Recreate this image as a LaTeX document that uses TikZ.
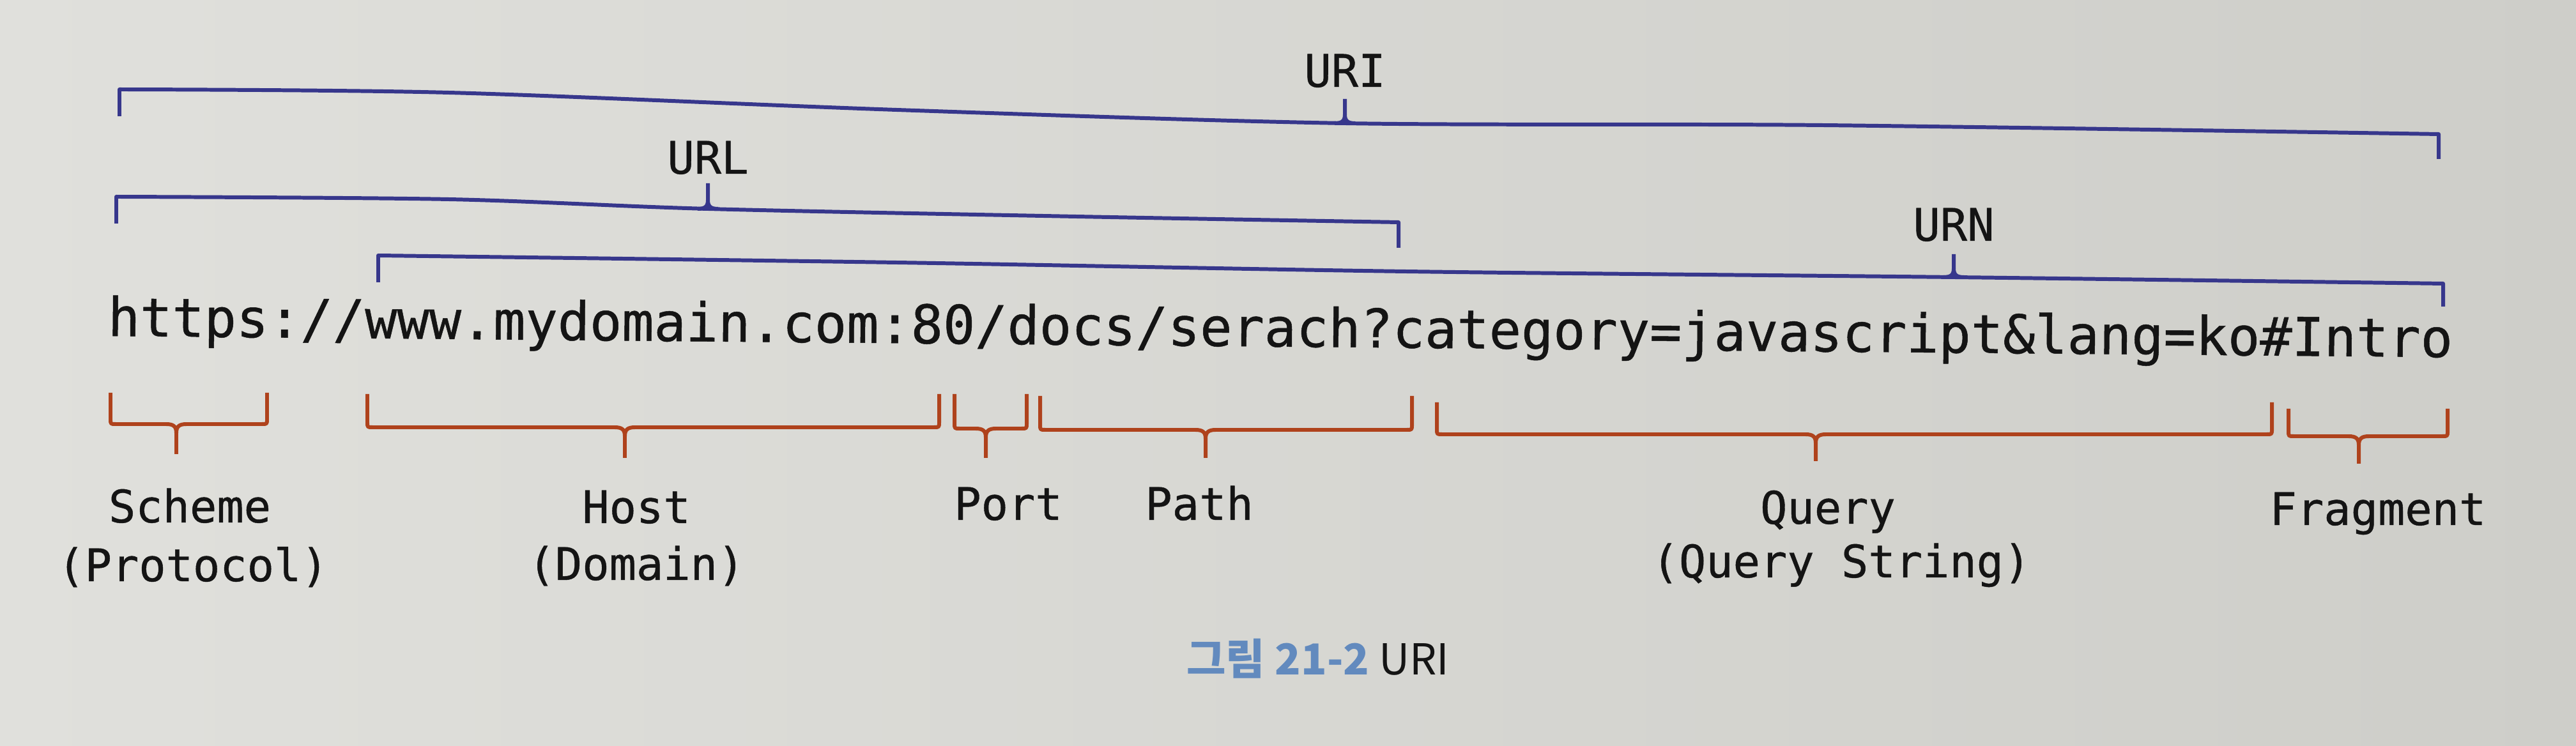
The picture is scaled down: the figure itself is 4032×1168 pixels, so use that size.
\documentclass[tikz,border=0pt]{standalone}
\usepackage{fontspec}
\setmonofont[FakeBold=0.6]{DejaVu Sans Mono}
\newfontfamily\cjkfont{Noto Sans CJK KR}
\definecolor{paperL}{RGB}{224,224,220}
\definecolor{paperR}{RGB}{206,206,201}
\definecolor{navy}{RGB}{55,55,140}
\definecolor{rust}{RGB}{175,66,28}
\definecolor{capblue}{RGB}{98,138,190}
\definecolor{ink}{RGB}{20,20,20}
\newcommand\segbrace[6]{% L R top line tick tip
  \draw[rustline] (#1,#3) -- (#1,#4-8) .. controls (#1,#4) .. (#1+8,#4) -- (#5-16,#4)
     .. controls (#5-4,#4) and (#5,#4+4) .. (#5,#4+14) -- (#5,#6);
  \draw[rustline] (#2,#3) -- (#2,#4-8) .. controls (#2,#4) .. (#2-8,#4) -- (#5+16,#4)
     .. controls (#5+4,#4) and (#5,#4+4) .. (#5,#4+14);
}
\newcommand\uptick[3]{% x line top
  \draw[navyline] (#1-16,#2) .. controls (#1-4,#2) and (#1,#2-4) .. (#1,#2-14) -- (#1,#3);
  \draw[navyline] (#1+16,#2) .. controls (#1+4,#2) and (#1,#2-4) .. (#1,#2-14);
}
\begin{document}
\begin{tikzpicture}[x=0.01cm,y=-0.01cm,
  lbl/.style={font=\ttfamily\fontsize{20}{25}\selectfont, text=ink, inner sep=0pt, anchor=base},
  navyline/.style={draw=navy, line width=1.7pt, line join=round},
  rustline/.style={draw=rust, line width=1.7pt, line join=round}]
\useasboundingbox (0,0) rectangle (4032,1168);
\shade[left color=paperL, right color=paperR] (0,0) rectangle (4032,1168);

% URL string
\node[font=\ttfamily\fontsize{23.75}{28}\selectfont, text=ink, anchor=base west, inner sep=0pt, rotate=-0.52]
  (addr) at (168,526) {https://www.mydomain.com:80/docs/serach?category=javascript\&lang=ko\#Intro};

% span labels
\node[lbl] (uri) at (2105,136) {URI};
\node[lbl] (urlname) at (1108,272) {URL};
\node[lbl] (urn) at (3058,377) {URN};

% URI bracket
\draw[navyline] (187,182) -- plot[smooth] coordinates {(187,140) (702,145) (1403,172) (2105,193) (2852,196) (3817,210)} -- (3817,249);
\uptick{2105}{193}{155}
% URL bracket
\draw[navyline] (182,350) -- plot[smooth] coordinates {(182,308) (702,312) (1108,327) (1684,339) (2189,348)} -- (2189,388);
\uptick{1108}{327}{287}
% URN bracket
\draw[navyline] (592,442) -- plot[smooth] coordinates {(592,400) (1403,411) (2200,425) (3058,434) (3824,444)} -- (3824,480);
\uptick{3058}{434}{398}

% part braces
\segbrace{173}{418}{615}{664}{276}{711}
\segbrace{575}{1470}{617}{669}{978}{717}
\segbrace{1494}{1607}{617}{671}{1543}{717}
\segbrace{1628}{2210}{620}{673}{1887}{717}
\segbrace{2249}{3556}{630}{680}{2842}{722}
\segbrace{3582}{3831}{640}{683}{3692}{726}

% part labels
\node[lbl] (scheme) at (297,818) {Scheme};
\node[lbl] (protocol) at (302,910) {(Protocol)};
\node[lbl] (host) at (996,819) {Host};
\node[lbl] (domain) at (996,908) {(Domain)};
\node[lbl] (port) at (1578,814) {Port};
\node[lbl] (path) at (1877,814) {Path};
\node[lbl] (query) at (2861,820) {Query};
\node[lbl] (qstring) at (2882,904) {(Query String)};
\node[lbl] (fragment) at (3722,822) {Fragment};

% caption
\node[anchor=base, inner sep=0pt, font=\cjkfont\fontsize{19}{22}\selectfont, text=ink] (caption) at (2063,1057)
  {\textcolor{capblue}{\bfseries 그림 21-2} URI};
\end{tikzpicture}
\end{document}
